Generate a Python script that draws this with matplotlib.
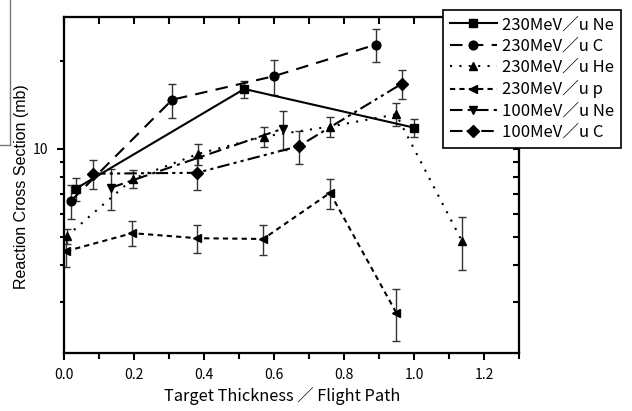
import matplotlib
matplotlib.use('Agg')
import matplotlib.pyplot as plt
from matplotlib.lines import Line2D
from matplotlib.ticker import FixedLocator, NullFormatter

plt.rcParams['font.family'] = ['Noto Sans CJK JP', 'DejaVu Sans']

# data
ne230_x = [0.034, 0.515, 1.0]
ne230_y = [7.3, 16.0, 11.8]
ne230_e = [0.66, 1.05, 0.87]

c230_x = [0.02, 0.309, 0.6, 0.891]
c230_y = [6.63, 14.7, 17.7, 22.7]
c230_e = [0.9, 2.0, 2.4, 2.9]

he230_x = [0.008, 0.197, 0.384, 0.571, 0.76, 0.949, 1.137]
he230_y = [5.02, 7.89, 9.6, 11.0, 11.9, 13.1, 4.83]
he230_e = [0.29, 0.58, 0.79, 0.9, 0.98, 1.19, 0.99]

p230_x = [0.006, 0.195, 0.381, 0.569, 0.76, 0.949]
p230_y = [4.46, 5.14, 4.94, 4.91, 7.06, 2.75]
p230_e = [0.52, 0.51, 0.53, 0.57, 0.83, 0.55]

ne100_x = [0.134, 0.625]
ne100_y = [7.35, 11.7]
ne100_e = [1.2, 1.8]

c100_x = [0.083, 0.38, 0.671, 0.966]
c100_y = [8.21, 8.27, 10.2, 16.7]
c100_e = [0.96, 1.07, 1.33, 1.95]

series = [
    ("230MeV／u Ne", ne230_x, ne230_y, ne230_e, 's', '-'),
    ("230MeV／u C", c230_x, c230_y, c230_e, 'o', (0, (6, 4))),
    ("230MeV／u He", he230_x, he230_y, he230_e, '^', (0, (1, 3.5))),
    ("230MeV／u p", p230_x, p230_y, p230_e, '<', (0, (2.5, 2))),
    ("100MeV／u Ne", ne100_x, ne100_y, ne100_e, 'v', (0, (6, 2.5, 1.5, 2.5))),
    ("100MeV／u C", c100_x, c100_y, c100_e, 'D', (0, (6, 2, 1.5, 2, 1.5, 2))),
]

fig = plt.figure(figsize=(6.32, 4.11), dpi=100)
ax = fig.add_axes([0.1013, 0.1411, 0.7199, 0.8175])

handles = []
for label, x, y, e, m, ls in series:
    ax.errorbar(x, y, yerr=e, fmt='none', ecolor='#333333', elinewidth=1,
                capsize=3, capthick=1, zorder=2)
    h, = ax.plot(x, y, color='black', linestyle=ls, linewidth=1.5,
                 marker=m, markersize=6.3 if m != 'D' else 5.8, label=label, zorder=3)
    handles.append(h)

ax.set_xlim(0, 1.3)
ax.set_yscale('log')
ax.set_ylim(2, 28.2)

xt = [0.0, 0.2, 0.4, 0.6, 0.8, 1.0, 1.2]
xminor = [0.1, 0.3, 0.5, 0.7, 0.9, 1.1, 1.3]
yminor = [3, 4, 5, 6, 7, 8, 9, 20]

ax.set_xticks(xt)
ax.set_xticklabels(['0.0', '0.2', '0.4', '0.6', '0.8', '1.0', '1.2'])
ax.xaxis.set_minor_locator(FixedLocator(xminor))
ax.set_yticks([10])
ax.set_yticklabels(['10'])
ax.yaxis.set_minor_locator(FixedLocator(yminor))
ax.yaxis.set_minor_formatter(NullFormatter())
ax.tick_params(which='major', direction='out', length=5, width=1.5, labelsize=10, pad=6)
ax.tick_params(which='minor', direction='out', length=4, width=1.5)
ax.tick_params(axis='y', which='minor', length=3)

for s in ax.spines.values():
    s.set_linewidth(1.5)

# mirrored ticks on top and right, pointing inward
axt = ax.twiny()
axt.set_xlim(ax.get_xlim())
axt.set_xticks(xt)
axt.xaxis.set_minor_locator(FixedLocator(xminor))
axt.tick_params(which='both', direction='in', length=5, width=1.5, labeltop=False)
axr = ax.twinx()
axr.set_yscale('log')
axr.set_ylim(ax.get_ylim())
axr.set_yticks([10])
axr.yaxis.set_minor_locator(FixedLocator(yminor))
axr.yaxis.set_minor_formatter(NullFormatter())
axr.tick_params(which='both', direction='in', length=4, width=1.5, labelright=False)
for a in (axt, axr):
    for s in a.spines.values():
        s.set_linewidth(1.5)

ax.set_xlabel('Target Thickness ／ Flight Path', fontsize=11.8, va='center')
ax.xaxis.set_label_coords(0.48, -0.128)
ax.set_ylabel('Reaction Cross Section (mb)', fontsize=11.5, va='center',
              family=['Liberation Sans'])
ax.yaxis.set_label_coords(-0.0945, 0.4955)

leg = fig.legend(handles=handles, loc='upper right', bbox_to_anchor=(0.995, 0.997),
                 fontsize=12, frameon=True, fancybox=False, framealpha=1,
                 edgecolor='black', handlelength=2.8, handletextpad=0.3,
                 labelspacing=0.26, borderpad=0.4)
leg.get_frame().set_linewidth(1.2)

# clipped box at top-left corner
fig.add_artist(Line2D([10/632, 10/632], [1.0, 1 - 145/411], color='#777777',
                      linewidth=1, transform=fig.transFigure))
fig.add_artist(Line2D([0, 10/632], [1 - 145/411, 1 - 145/411], color='#777777',
                      linewidth=1, transform=fig.transFigure))

plt.savefig('out.png', dpi=100)
